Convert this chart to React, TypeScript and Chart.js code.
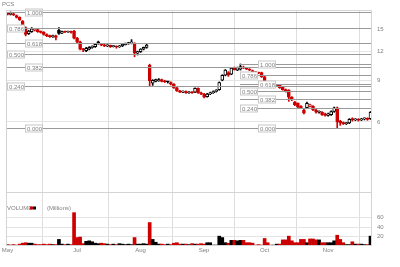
import { useEffect, useRef } from "react";
import { Chart, registerables } from "chart.js";
Chart.register(...registerables);

// ---- data ----
const opens = [
  17.5, 17.3, 17.4, 17.1, 16.8, 16.2, 15.2, 14.3, 14.6, 14.8,
  14.9, 14.6, 14.5, 14.2, 14.0, 13.9, 14.0, 14.8, 14.4, 14.6,
  14.55, 14.6, 14.7, 13.7, 13.2, 12.3, 12.1, 12.3, 12.5, 12.6,
  13.2, 12.95, 12.8, 12.7, 12.75, 12.6, 12.65, 12.55, 12.7, 12.85,
  12.95, 13.0, 13.0, 11.8, 12.0, 12.3, 12.5, 10.5, 8.8, 8.95,
  9.0, 9.1, 9.0, 8.9, 8.85, 8.7, 8.4, 8.15, 8.05, 8.1,
  8.0, 8.05, 8.05, 8.35, 8.0, 7.9, 7.7, 7.9, 8.0, 8.1,
  8.25, 9.05, 9.5, 9.75, 9.6, 10.2, 10.0, 10.1, 10.3, 10.2,
  10.1, 9.95, 9.8, 9.75, 9.75, 9.35, 8.9, 8.5, 8.45, 8.55,
  8.6, 8.45, 8.25, 8.2, 7.65, 7.3, 7.2, 7.0, 6.75, 6.9,
  7.0, 7.0, 6.75, 6.6, 6.6, 6.5, 6.4, 6.45, 6.65, 6.9,
  6.05, 5.95, 5.9, 5.95, 6.2, 6.12, 6.15, 6.12, 6.18, 6.2,
  6.2,
];
const highs = [
  17.6, 17.72, 17.5, 17.2, 16.9, 16.3, 15.3, 14.8, 15.2, 15.0,
  15.0, 14.7, 14.6, 14.3, 14.1, 14.1, 14.1, 15.2, 14.7, 14.7,
  14.7, 14.7, 14.8, 13.8, 13.3, 12.4, 12.5, 12.6, 12.7, 13.0,
  13.3, 13.0, 12.9, 12.85, 12.8, 12.75, 12.7, 12.75, 12.95, 13.05,
  13.15, 13.5, 13.1, 12.05, 12.35, 12.55, 13.0, 10.6, 9.1, 9.15,
  9.2, 9.15, 9.05, 8.95, 8.9, 8.75, 8.45, 8.2, 8.15, 8.15,
  8.1, 8.1, 8.4, 8.4, 8.05, 7.95, 7.95, 8.05, 8.15, 8.25,
  8.9, 9.55, 10.05, 9.85, 10.25, 10.3, 10.3, 10.62, 10.4, 10.25,
  10.15, 10.0, 9.85, 9.8, 9.8, 9.4, 8.95, 8.55, 8.6, 8.65,
  8.65, 8.5, 8.3, 8.25, 7.7, 7.35, 7.25, 7.05, 6.8, 7.3,
  7.15, 7.05, 6.8, 6.7, 6.65, 6.55, 6.55, 6.7, 6.95, 6.95,
  6.1, 6.0, 5.98, 6.2, 6.25, 6.2, 6.2, 6.22, 6.25, 6.25,
  6.65,
];
const lows = [
  17.2, 17.2, 17.1, 16.7, 16.3, 15.3, 14.0, 14.2, 14.5, 14.7,
  14.5, 14.4, 14.1, 13.9, 13.8, 13.8, 13.45, 14.2, 14.3, 14.45,
  14.5, 14.4, 13.6, 13.1, 12.2, 12.0, 12.0, 12.2, 12.4, 12.5,
  12.9, 12.7, 12.6, 12.6, 12.5, 12.55, 12.4, 12.5, 12.6, 12.8,
  12.9, 12.95, 11.4, 11.6, 11.9, 12.2, 12.4, 8.55, 8.6, 8.9,
  8.95, 8.9, 8.85, 8.8, 8.65, 8.35, 8.1, 8.0, 8.0, 7.95,
  7.95, 7.95, 8.0, 7.95, 7.85, 7.6, 7.65, 7.85, 7.95, 8.05,
  8.2, 9.0, 9.45, 9.4, 9.55, 10.0, 9.95, 10.0, 10.15, 10.05,
  9.95, 9.75, 9.7, 9.65, 9.3, 8.95, 8.45, 8.4, 8.4, 8.5,
  8.35, 8.2, 8.05, 7.35, 7.4, 7.05, 6.9, 6.85, 6.5, 6.85,
  6.95, 6.7, 6.55, 6.55, 6.4, 6.35, 6.35, 6.4, 6.6, 5.66,
  5.8, 5.85, 5.85, 5.9, 6.05, 6.08, 6.05, 6.08, 6.12, 6.1,
  6.15,
];
const closes = [
  17.3, 17.4, 17.2, 16.8, 16.4, 15.4, 14.2, 14.7, 15.0, 14.9,
  14.6, 14.5, 14.2, 14.0, 13.9, 14.0, 13.8, 14.35, 14.6, 14.55,
  14.6, 14.5, 13.7, 13.2, 12.3, 12.2, 12.4, 12.5, 12.6, 12.9,
  12.95, 12.8, 12.7, 12.75, 12.6, 12.65, 12.55, 12.7, 12.9, 13.0,
  13.1, 13.2, 11.8, 12.0, 12.3, 12.5, 12.8, 9.0, 9.05, 9.1,
  9.1, 8.95, 8.9, 8.9, 8.7, 8.4, 8.15, 8.05, 8.1, 8.0,
  8.05, 8.0, 8.35, 8.0, 7.9, 7.65, 7.9, 8.0, 8.1, 8.2,
  8.85, 9.5, 10.0, 9.5, 10.2, 10.05, 10.25, 10.35, 10.2, 10.1,
  10.0, 9.8, 9.75, 9.7, 9.35, 9.0, 8.5, 8.45, 8.55, 8.6,
  8.4, 8.25, 8.1, 7.65, 7.45, 7.1, 6.95, 6.9, 6.55, 7.2,
  7.1, 6.75, 6.6, 6.65, 6.45, 6.4, 6.5, 6.65, 6.9, 6.0,
  5.95, 5.9, 5.92, 6.15, 6.12, 6.15, 6.1, 6.18, 6.2, 6.15,
  6.6,
];
const volumes = [
  3, 2, 3, 2, 4, 6, 7, 6, 6, 4,
  3, 3, 4, 3, 4, 3, 3, 14, 4, 3,
  4, 3, 71, 18, 19, 5, 10, 11, 9, 6,
  5, 6, 5, 4, 3, 4, 3, 5, 4, 3,
  4, 3, 18, 4, 4, 5, 4, 50, 14, 8,
  4, 4, 3, 4, 3, 6, 7, 4, 4, 4,
  3, 5, 4, 4, 5, 4, 7, 7, 2, 2,
  21, 18, 7, 6, 12, 12, 11, 12, 12, 7,
  7, 6, 2, 3, 2, 16, 7, 2, 2, 4,
  4, 13, 13, 21, 11, 7, 7, 14, 14, 7,
  15, 15, 13, 13, 7, 7, 7, 7, 11, 23,
  14, 7, 3, 3, 9, 4, 4, 4, 3, 3,
  21,
];
const monthStarts = [0, 23, 44, 65, 85, 106];
const monthLabels = ["May", "Jul", "Aug", "Sep", "Oct", "Nov"];
const priceTicks = [6, 9, 12, 15];
const volumeTicks = [20, 40, 60];
const fibRatios = [1, 0.786, 0.618, 0.5, 0.382, 0.24, 0];
const fibLabels = ["1.000", "0.786", "0.618", "0.500", "0.382", "0.240", "0.000"];
const fibHighIndex = [1, 77];
const fibLowIndex = [109, 109];
const fibStartIndex = [-0.5, 77];

const RED = "#cc0000";
const BLACK = "#000000";
const FONT = '"Liberation Sans", Arial, sans-serif';

export default function App() {
  const ref = useRef<HTMLCanvasElement>(null);
  useEffect(() => {
    const N = closes.length;
    const idx = Array.from({ length: N }, (_, i) => i);
    const col = (i: number) =>
      i === 0 ? (closes[0] < opens[0] ? RED : BLACK) : closes[i] < closes[i - 1] ? RED : BLACK;
    const up = (i: number) => closes[i] > opens[i];

    const overlay = {
      id: "overlay",
      afterDatasetsDraw(chart: any) {
        const { ctx, chartArea: a, scales } = chart;
        const xs = scales.x, ys = scales.y, yv = scales.yv;
        ctx.save();
        ctx.lineWidth = 1;
        // fib retracements
        ctx.font = "6px " + FONT;
        ctx.textBaseline = "middle";
        for (let s = 0; s < fibHighIndex.length; s++) {
          const hi = highs[fibHighIndex[s]];
          const lo = lows[fibLowIndex[s]];
          const x0 = Math.max(a.left + 1, Math.round(xs.getPixelForValue(fibStartIndex[s])));
          fibRatios.forEach((r, k) => {
            const py = Math.round(ys.getPixelForValue(lo + r * (hi - lo))) + 0.5;
            ctx.strokeStyle = "#9a9a9a";
            ctx.beginPath();
            ctx.moveTo(x0, py);
            ctx.lineTo(a.right, py);
            ctx.stroke();
            const bx = x0 + (k % 2 === 0 ? 18 : 0) + 0.5;
            ctx.fillStyle = "#fff";
            ctx.fillRect(bx, py - 3.5, 17, 7);
            ctx.strokeStyle = "#c8c8c8";
            ctx.strokeRect(bx, py - 3.5, 17, 7);
            ctx.fillStyle = "#808080";
            ctx.textAlign = "left";
            ctx.fillText(fibLabels[k], bx + 1.5, py + 0.5);
          });
        }
        // panel separator + border
        ctx.strokeStyle = "#d4d4d4";
        const sep = Math.round(ys.bottom) + 0.5;
        ctx.beginPath();
        ctx.moveTo(a.left, sep);
        ctx.lineTo(a.right, sep);
        ctx.stroke();
        ctx.strokeRect(a.left + 0.5, a.top + 0.5, a.right - a.left - 1, a.bottom - a.top - 1);
        // volume legend
        const ly = yv.top + 16;
        ctx.fillStyle = "#808080";
        ctx.fillText("VOLUME", a.left + 1, ly);
        ctx.fillStyle = RED;
        ctx.fillRect(a.left + 24, ly - 1.5, 3, 3);
        ctx.fillStyle = BLACK;
        ctx.fillRect(a.left + 27, ly - 1.5, 3, 3);
        ctx.fillStyle = "#808080";
        ctx.fillText("(Millions)", a.left + 41, ly);
        // title
        ctx.fillText("PCS", 2, 4);
        ctx.restore();
      },
    };

    const chart = new Chart(ref.current as HTMLCanvasElement, {
      type: "bar",
      data: {
        datasets: [
          {
            label: "body",
            data: idx.map((i) => ({ x: i, y: [Math.min(opens[i], closes[i]), Math.max(opens[i], closes[i])] })) as any,
            backgroundColor: idx.map((i) => (up(i) ? "#ffffff" : col(i))),
            borderColor: idx.map((i) => col(i)),
            borderWidth: 1,
            borderSkipped: false,
            barThickness: 3,
            minBarLength: 1,
            grouped: false,
            order: 0,
            yAxisID: "y",
          },
          {
            label: "wick",
            data: idx.map((i) => ({ x: i, y: [lows[i], highs[i]] })) as any,
            backgroundColor: idx.map((i) => col(i)),
            barThickness: 1,
            grouped: false,
            order: 1,
            yAxisID: "y",
          },
          {
            label: "volume",
            data: idx.map((i) => ({ x: i, y: volumes[i] })) as any,
            backgroundColor: idx.map((i) => col(i)),
            barThickness: 3,
            grouped: false,
            order: 2,
            yAxisID: "yv",
          },
        ],
      },
      options: {
        animation: false,
        responsive: false,
        maintainAspectRatio: false,
        layout: { padding: { top: 10, left: 6, right: 0, bottom: 0 } },
        plugins: { legend: { display: false }, tooltip: { enabled: false } },
        scales: {
          x: {
            type: "linear",
            min: -0.5,
            max: closes.length - 0.5,
            offset: false,
            afterBuildTicks: (s: any) => {
              s.ticks = monthStarts.map((v) => ({ value: v }));
            },
            afterFit: (s: any) => {
              s.height = 21;
            },
            ticks: {
              autoSkip: false,
              maxRotation: 0,
              padding: 1,
              font: { size: 6, family: FONT },
              color: "#808080",
              callback: (v: any) => monthLabels[monthStarts.indexOf(v)] ?? "",
            },
            grid: { color: "#dedede", drawTicks: false },
            border: { display: false },
          },
          y: {
            type: "logarithmic",
            position: "right",
            stack: "main",
            stackWeight: 182,
            min: 3.01,
            max: 18.07,
            afterBuildTicks: (s: any) => {
              s.ticks = priceTicks.map((v) => ({ value: v }));
            },
            afterFit: (s: any) => {
              s.width = 28;
            },
            ticks: {
              padding: 5,
              font: { size: 6, family: FONT },
              color: "#808080",
              callback: (v: any) => String(v),
            },
            grid: { color: "#e4e4e4", drawTicks: false },
            border: { display: false },
          },
          yv: {
            type: "linear",
            position: "right",
            stack: "main",
            stackWeight: 54,
            min: 0,
            max: 115,
            afterBuildTicks: (s: any) => {
              s.ticks = volumeTicks.map((v) => ({ value: v }));
            },
            afterFit: (s: any) => {
              s.width = 28;
            },
            ticks: {
              padding: 5,
              font: { size: 6, family: FONT },
              color: "#808080",
              callback: (v: any) => String(v),
            },
            grid: { color: "#e4e4e4", drawTicks: false },
            border: { display: false },
          },
        },
      } as any,
      plugins: [overlay],
    });
    return () => chart.destroy();
  }, []);

  return (
    <div style={{ position: "absolute", left: 0, top: 0, width: 400, height: 267, background: "#fff" }}>
      <canvas ref={ref} width={400} height={267} />
    </div>
  );
}
